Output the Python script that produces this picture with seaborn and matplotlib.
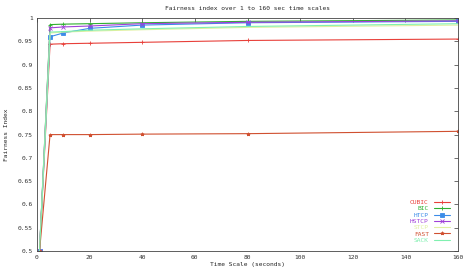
import matplotlib
matplotlib.use("Agg")
import matplotlib.pyplot as plt
import seaborn as sns
import pandas as pd
from matplotlib.lines import Line2D

time_scales = [1, 5, 10, 20, 40, 80, 160]
cubic = [0.5, 0.944, 0.945, 0.946, 0.948, 0.952, 0.955]
bic = [0.5, 0.986, 0.987, 0.988, 0.990, 0.993, 0.996]
htcp = [0.5, 0.960, 0.968, 0.978, 0.985, 0.990, 0.993]
hstcp = [0.5, 0.979, 0.981, 0.983, 0.988, 0.991, 0.994]
stcp = [0.5, 0.968, 0.970, 0.972, 0.975, 0.980, 0.985]
fast = [0.5, 0.750, 0.750, 0.750, 0.751, 0.752, 0.757]
sack = [0.5, 0.970, 0.971, 0.974, 0.977, 0.982, 0.988]

names = ["CUBIC", "BIC", "HTCP", "HSTCP", "STCP", "FAST", "SACK"]
series = [cubic, bic, htcp, hstcp, stcp, fast, sack]
colors = ["#e8403a", "#30b030", "#3c8ce8", "#a040d8", "#e0f0a0", "#d05030", "#80f0b0"]
markers = ["+", "+", "s", "x", "", "*", ""]
x_ticks = [0, 20, 40, 60, 80, 100, 120, 140, 160]
y_ticks = [0.5, 0.55, 0.6, 0.65, 0.7, 0.75, 0.8, 0.85, 0.9, 0.95, 1.0]

sns.set_style("white")
plt.rcParams["font.family"] = ["DejaVu Sans Mono"]
fig = plt.figure(figsize=(4.67, 2.70), dpi=100)
ax = fig.add_axes([0.079, 0.070, 0.902, 0.863])

for n, s, c, m in zip(names, series, colors, markers):
    d = pd.DataFrame({"Time": time_scales, "Fairness": s})
    sns.lineplot(data=d, x="Time", y="Fairness", color=c, linewidth=0.8,
                 marker=(m if m else None), markersize=2.5, markeredgewidth=0.6,
                 markeredgecolor=c, ax=ax)

ax.set_xlim(0, 160)
ax.set_ylim(0.5, 1.0)
ax.set_xticks(x_ticks)
ax.set_yticks(y_ticks)
ax.set_yticklabels([f"{v:g}" for v in y_ticks])
ax.tick_params(direction="in", length=3, width=0.5, labelsize=4.5, top=True, right=True, pad=3,
               colors="#333333")
for sp in ax.spines.values():
    sp.set_linewidth(0.6)
    sp.set_color("#444444")
ax.set_xlabel("Time Scale (seconds)", fontsize=4.5, labelpad=1)
ax.set_ylabel("Fairness Index", fontsize=4.5, labelpad=6)
ax.set_title("Fairness index over 1 to 160 sec time scales", fontsize=4.5, pad=6)

handles = [Line2D([], [], color=c, marker=(m if m else None), markersize=2.5, linewidth=0.8,
                  markeredgewidth=0.6)
           for c, m in zip(colors, markers)]
leg = ax.legend(handles, names, loc="lower right", fontsize=4.5, frameon=False,
                markerfirst=False, handlelength=2.6, labelspacing=0.15, borderaxespad=0.9,
                handletextpad=0.8)
for t, c in zip(leg.get_texts(), colors):
    t.set_color(c)

fig.savefig("out.png", dpi=100)
